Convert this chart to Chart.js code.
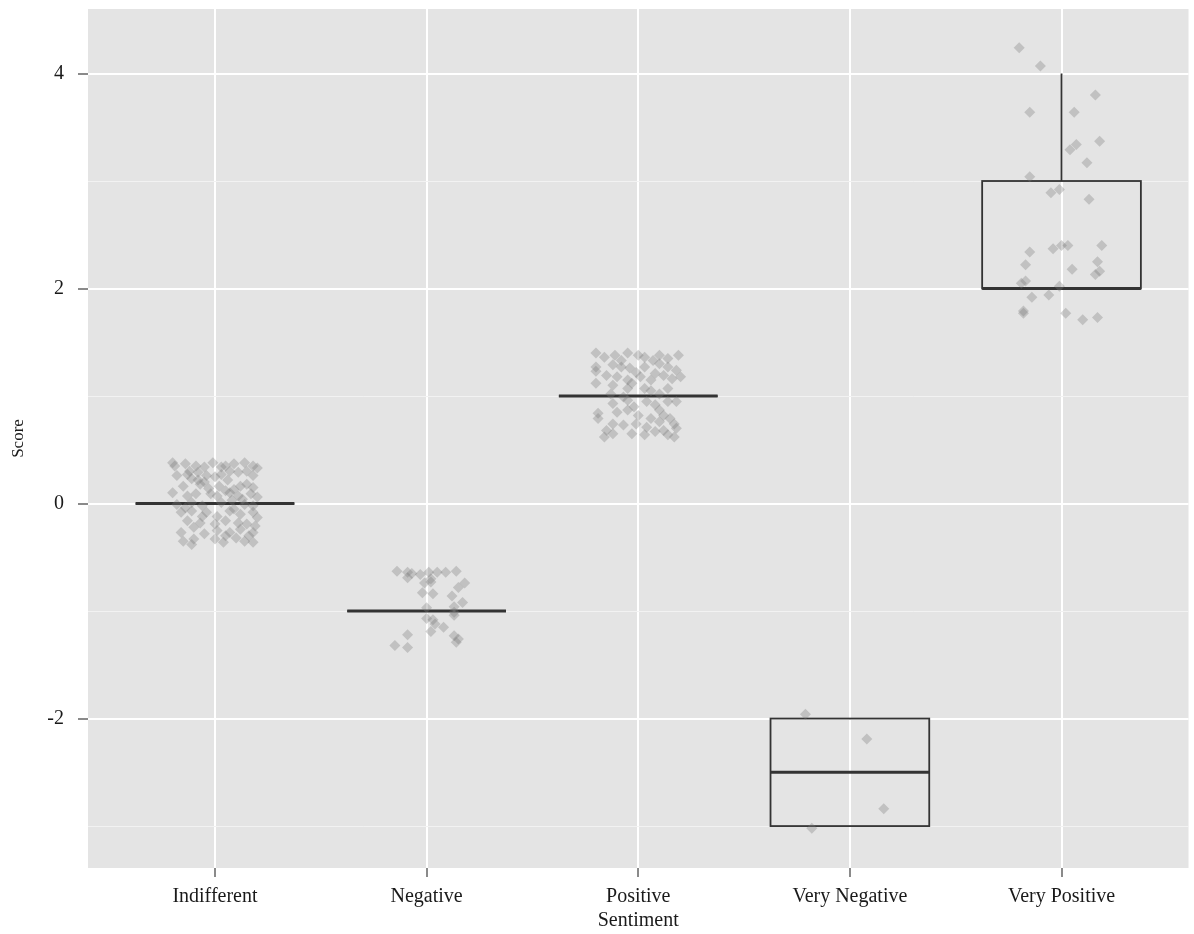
<!DOCTYPE html>
<html lang="en">
<head>
<meta charset="UTF-8">
<title>Score by Sentiment</title>
<script src="https://cdn.jsdelivr.net/npm/chart.js"></script>
<style>
  html, body { margin: 0; padding: 0; background: #fff; }
</style>
</head>
<body>
<canvas id="chart" width="1194" height="934"></canvas>
<script>
// categories on the x axis (positions 1..5)
const categories = ['Indifferent', 'Negative', 'Positive', 'Very Negative', 'Very Positive'];
const yTicks = [-3, -2, -1, 0, 1, 2, 3, 4];

// box statistics per category
const boxLower    = [0, -1, 1, -3,   2];
const boxMedian   = [0, -1, 1, -2.5, 2];
const boxUpper    = [0, -1, 1, -2,   3];
const whiskerLow  = [0, -1, 1, -3,   2];
const whiskerHigh = [0, -1, 1, -2,   4];

// jittered observations [x, score]
const ptsIndifferent = [
  [0.80,0.38],[0.81,0.35],[0.86,0.37],[0.91,0.35],[0.95,0.34],[0.99,0.38],[1.03,0.34],[1.05,0.35],[1.09,0.37],[1.14,0.38],[1.18,0.35],[1.20,0.33],
  [0.82,0.26],[0.87,0.27],[0.92,0.29],[0.96,0.26],[1.03,0.27],[1.07,0.30],[1.11,0.29],[1.15,0.30],[1.18,0.26],[0.89,0.23],
  [0.85,0.16],[0.93,0.18],[0.95,0.20],[1.02,0.16],[1.05,0.12],[1.12,0.16],[1.15,0.18],[1.18,0.15],[1.09,0.13],
  [0.80,0.10],[0.87,0.07],[0.91,0.09],[0.98,0.09],[1.01,0.07],[1.07,0.10],[1.11,0.07],[1.17,0.09],[1.20,0.06],
  [0.82,-0.01],[0.89,0.01],[0.94,-0.02],[1.03,0.01],[1.08,0.03],[1.14,-0.01],[1.18,-0.02],
  [0.84,-0.08],[0.89,-0.07],[0.96,-0.08],[1.01,-0.12],[1.07,-0.07],[1.12,-0.10],[1.18,-0.08],[1.20,-0.13],
  [0.87,-0.16],[0.93,-0.18],[1.00,-0.19],[1.05,-0.16],[1.11,-0.18],[1.15,-0.19],[1.19,-0.21],[0.90,-0.22],
  [0.84,-0.27],[1.01,-0.25],[1.07,-0.27],[1.12,-0.24],[1.18,-0.27],
  [0.85,-0.35],[0.90,-0.33],[1.00,-0.33],[1.04,-0.36],[1.10,-0.32],[1.14,-0.35],[1.18,-0.36],[0.89,-0.38],
  [0.92,0.22],[0.97,0.14],[1.06,0.22],[0.86,-0.04],[1.09,-0.05],[0.95,-0.28],[1.05,-0.30],[1.13,0.04],[0.88,0.30],[1.00,0.25],[0.94,-0.12],[1.16,-0.30]
];
const ptsNegative = [
  [1.86,-0.63],[1.91,-0.64],[1.93,-0.65],[1.91,-0.69],[1.97,-0.66],[2.01,-0.64],[2.05,-0.64],[2.09,-0.64],[2.14,-0.63],
  [1.99,-0.74],[2.02,-0.73],[2.02,-0.70],[2.18,-0.74],[2.15,-0.78],[1.98,-0.83],[2.03,-0.84],[2.12,-0.86],
  [2.17,-0.92],[2.13,-0.96],[2.00,-0.97],[2.13,-1.01],[2.13,-1.04],[2.00,-1.07],[2.03,-1.08],[2.04,-1.12],
  [2.08,-1.15],[2.02,-1.19],[1.91,-1.22],[2.13,-1.23],[2.15,-1.26],[2.14,-1.29],[1.85,-1.32],[1.91,-1.34]
];
const ptsPositive = [
  [2.80,1.40],[2.84,1.36],[2.89,1.38],[2.95,1.40],[3.00,1.38],[3.03,1.36],[3.10,1.38],[3.14,1.35],[3.19,1.38],
  [2.80,1.27],[2.88,1.29],[2.92,1.27],[2.96,1.26],[3.03,1.27],[3.10,1.30],[3.14,1.27],[3.18,1.24],[2.80,1.23],
  [2.85,1.19],[2.90,1.18],[2.95,1.15],[2.97,1.12],[3.01,1.18],[3.06,1.15],[3.12,1.19],[3.16,1.16],[3.20,1.18],[2.80,1.12],
  [2.88,1.10],[2.95,1.07],[3.03,1.07],[3.06,1.05],[3.14,1.07],[3.10,1.02],[2.87,1.02],
  [2.88,0.93],[2.95,0.96],[3.04,0.95],[3.08,0.92],[3.14,0.95],[3.18,0.95],[2.98,0.90],[3.10,0.87],
  [2.81,0.84],[2.90,0.85],[2.95,0.87],[3.00,0.82],[3.06,0.79],[3.12,0.82],[3.15,0.79],[2.81,0.79],
  [2.88,0.74],[2.93,0.73],[2.99,0.74],[3.04,0.71],[3.10,0.76],[3.17,0.74],[3.18,0.70],[2.85,0.68],
  [2.88,0.65],[2.97,0.65],[3.03,0.64],[3.08,0.67],[3.14,0.64],[3.17,0.62],[2.84,0.62],
  [2.92,1.33],[3.07,1.33],[2.99,1.22],[3.08,1.21],[2.93,0.99],[3.12,0.68]
];
const ptsVeryNegative = [[3.79,-1.96],[4.08,-2.19],[4.16,-2.84],[3.82,-3.02]];
const ptsVeryPositive = [
  [4.80,4.24],[4.90,4.07],[5.16,3.80],[4.85,3.64],[5.06,3.64],[5.18,3.37],[5.07,3.34],[5.04,3.29],[5.12,3.17],
  [4.85,3.04],[4.95,2.89],[4.99,2.92],[5.13,2.83],[4.85,2.34],[4.96,2.37],[5.00,2.40],[5.03,2.40],[5.19,2.40],
  [4.83,2.22],[5.05,2.18],[5.17,2.25],[5.16,2.13],[5.18,2.16],[4.81,2.05],[4.83,2.07],[4.86,1.92],[4.94,1.94],
  [4.99,2.02],[4.82,1.79],[4.82,1.77],[5.02,1.77],[5.10,1.71],[5.17,1.73]
];

const allPoints = [].concat(ptsIndifferent, ptsNegative, ptsPositive, ptsVeryNegative, ptsVeryPositive)
  .map(p => ({ x: p[0], y: p[1] }));

const serif = 'Liberation Serif';
const boxHalf = 0.375;

// grey panel behind the grid
const panelBg = {
  id: 'panelBg',
  beforeDraw(chart) {
    const { ctx, chartArea: a } = chart;
    ctx.save();
    ctx.fillStyle = '#e4e4e4';
    ctx.fillRect(a.left, a.top, a.right - a.left, a.bottom - a.top);
    ctx.restore();
  }
};

// boxplots drawn through the chart scales
const boxes = {
  id: 'boxes',
  beforeDatasetsDraw(chart) {
    const { ctx, chartArea: a, scales: { x, y } } = chart;
    ctx.save();
    ctx.beginPath();
    ctx.rect(a.left, a.top, a.right - a.left, a.bottom - a.top);
    ctx.clip();
    ctx.strokeStyle = '#333333';
    categories.forEach((c, i) => {
      const xc = x.getPixelForValue(i + 1);
      const xl = x.getPixelForValue(i + 1 - boxHalf);
      const xr = x.getPixelForValue(i + 1 + boxHalf);
      const yLo = y.getPixelForValue(boxLower[i]);
      const yHi = y.getPixelForValue(boxUpper[i]);
      ctx.lineWidth = 1.8;
      ctx.beginPath();
      ctx.moveTo(xc, yHi); ctx.lineTo(xc, y.getPixelForValue(whiskerHigh[i]));
      ctx.moveTo(xc, yLo); ctx.lineTo(xc, y.getPixelForValue(whiskerLow[i]));
      ctx.stroke();
      ctx.strokeRect(xl, yHi, xr - xl, yLo - yHi);
      ctx.lineWidth = 3;
      ctx.beginPath();
      const ym = y.getPixelForValue(boxMedian[i]);
      ctx.moveTo(xl, ym); ctx.lineTo(xr, ym);
      ctx.stroke();
    });
    ctx.restore();
  }
};

const isMajor = v => v % 2 === 0;

new Chart(document.getElementById('chart'), {
  type: 'scatter',
  data: {
    datasets: [{
      data: allPoints,
      pointStyle: 'rectRot',
      pointRadius: 5.5,
      pointHoverRadius: 5.5,
      backgroundColor: 'rgba(120,120,120,0.33)',
      borderWidth: 0
    }]
  },
  options: {
    responsive: false,
    animation: false,
    layout: { padding: { top: 9, right: 4, left: 0, bottom: 0 } },
    plugins: { legend: { display: false }, tooltip: { enabled: false } },
    scales: {
      x: {
        type: 'linear',
        min: 0.4,
        max: 5.6,
        afterBuildTicks: s => { s.ticks = categories.map((c, i) => ({ value: i + 1 })); },
        afterFit: s => { s.height = 66; s.paddingLeft = 0; s.paddingRight = 0; },
        ticks: {
          autoSkip: false,
          maxRotation: 0,
          padding: 8,
          color: '#1a1a1a',
          font: { family: serif, size: 20 },
          callback: v => categories[Math.round(v) - 1]
        },
        grid: { color: '#ffffff', lineWidth: 2, tickColor: '#8a8a8a', tickLength: 9 },
        border: { display: false },
        title: {
          display: true,
          text: 'Sentiment',
          color: '#1a1a1a',
          font: { family: serif, size: 20 },
          padding: { top: 0, bottom: 1 }
        }
      },
      y: {
        type: 'linear',
        min: -3.39,
        max: 4.6,
        afterBuildTicks: s => { s.ticks = yTicks.map(v => ({ value: v })); },
        afterFit: s => { s.width = 88; s.paddingTop = 0; s.paddingBottom = 0; },
        ticks: {
          padding: 14,
          color: '#1a1a1a',
          font: { family: serif, size: 20 },
          callback: v => (isMajor(v) ? String(v) : '')
        },
        grid: {
          color: c => (c.tick && isMajor(c.tick.value) ? '#ffffff' : '#f2f2f2'),
          lineWidth: c => (c.tick && isMajor(c.tick.value) ? 2 : 1),
          tickColor: c => (c.tick && isMajor(c.tick.value) ? '#8a8a8a' : 'rgba(0,0,0,0)'),
          tickLength: 10
        },
        border: { display: false },
        title: {
          display: true,
          text: 'Score',
          color: '#1a1a1a',
          font: { family: serif, size: 17 },
          padding: { top: 8, bottom: 0 }
        }
      }
    }
  },
  plugins: [panelBg, boxes]
});
</script>
</body>
</html>
